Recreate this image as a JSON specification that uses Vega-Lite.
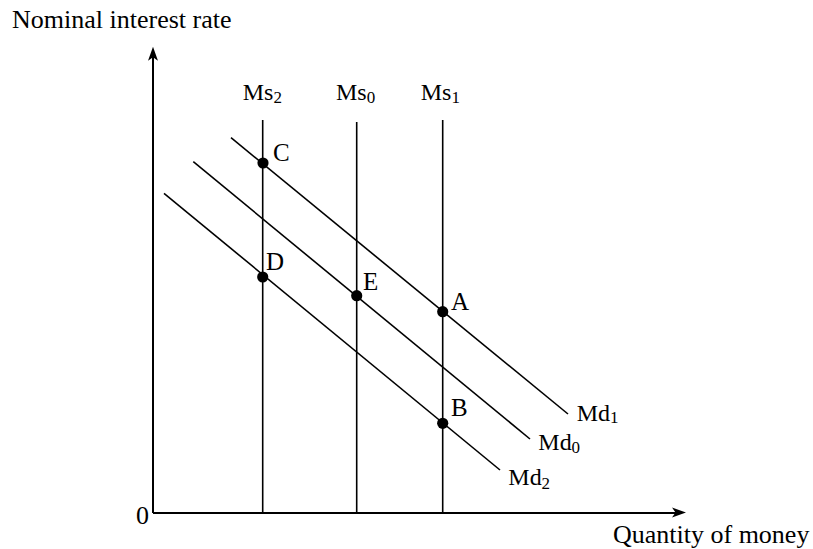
{
  "$schema": "https://vega.github.io/schema/vega-lite/v6.json",
  "width": 813,
  "height": 549,
  "autosize": {"type": "fit", "contains": "padding"},
  "padding": 0,
  "background": "white",
  "config": {"view": {"stroke": null}},
  "datasets": {
    "segs": [
      {"name": "yaxis", "role": "axis", "x1": 0, "y1": 0, "x2": 0, "y2": 458},
      {"name": "xaxis", "role": "axis", "x1": 0, "y1": 0, "x2": 526, "y2": 0},
      {"name": "Ms2", "role": "curve", "x1": 109.7, "y1": 0, "x2": 109.7, "y2": 393},
      {"name": "Ms0", "role": "curve", "x1": 203.7, "y1": 0, "x2": 203.7, "y2": 391},
      {"name": "Ms1", "role": "curve", "x1": 289.7, "y1": 0, "x2": 289.7, "y2": 393},
      {"name": "Md1", "role": "curve", "x1": 78, "y1": 375.3, "x2": 415, "y2": 99},
      {"name": "Md0", "role": "curve", "x1": 40.3, "y1": 351.3, "x2": 377, "y2": 74},
      {"name": "Md2", "role": "curve", "x1": 11, "y1": 319.7, "x2": 347, "y2": 43}
    ],
    "pts": [
      {"name": "C", "x": 110, "y": 350},
      {"name": "D", "x": 109.7, "y": 236},
      {"name": "E", "x": 203.7, "y": 217.3},
      {"name": "A", "x": 289.7, "y": 201.3},
      {"name": "B", "x": 289.7, "y": 89.7}
    ],
    "arrows": [
      {"dir": "up", "x": 0, "y": 459.3},
      {"dir": "right", "x": 526, "y": 0.5}
    ],
    "labels": [
      {"text": "Nominal interest rate", "part": "title", "x": -141, "y": 485.3},
      {"text": "Quantity of money", "part": "title", "x": 460, "y": -29.7},
      {"text": "0", "part": "title", "x": -17, "y": -11},
      {"text": "C", "part": "point", "x": 120, "y": 352},
      {"text": "D", "part": "point", "x": 113, "y": 243},
      {"text": "E", "part": "point", "x": 210, "y": 223},
      {"text": "A", "part": "point", "x": 298, "y": 203},
      {"text": "B", "part": "point", "x": 298, "y": 97},
      {"text": "Ms", "part": "main", "x": 89.7, "y": 413},
      {"text": "2", "part": "sub", "x": 120.4, "y": 409.7},
      {"text": "Ms", "part": "main", "x": 183, "y": 413},
      {"text": "0", "part": "sub", "x": 213.7, "y": 409.7},
      {"text": "Ms", "part": "main", "x": 267.7, "y": 413},
      {"text": "1", "part": "sub", "x": 298.4, "y": 409.7},
      {"text": "Md", "part": "main", "x": 423.7, "y": 92},
      {"text": "1", "part": "sub", "x": 457, "y": 90},
      {"text": "Md", "part": "main", "x": 385.3, "y": 63},
      {"text": "0", "part": "sub", "x": 418.6, "y": 59.7},
      {"text": "Md", "part": "main", "x": 355.3, "y": 28},
      {"text": "2", "part": "sub", "x": 388.6, "y": 24}
    ]
  },
  "resolve": {"scale": {"x": "shared", "y": "shared"}},
  "layer": [
    {
      "data": {"name": "segs"},
      "transform": [{"filter": "datum.role === 'axis'"}],
      "mark": {"type": "rule", "color": "black", "strokeWidth": 2},
      "encoding": {
        "x": {"field": "x1", "type": "quantitative", "scale": {"domain": [-153, 660], "nice": false, "zero": false}, "axis": null},
        "y": {"field": "y1", "type": "quantitative", "scale": {"domain": [-36, 513], "nice": false, "zero": false}, "axis": null},
        "x2": {"field": "x2"},
        "y2": {"field": "y2"}
      }
    },
    {
      "data": {"name": "segs"},
      "transform": [{"filter": "datum.role === 'curve'"}],
      "mark": {"type": "rule", "color": "black", "strokeWidth": 1.6},
      "encoding": {
        "x": {"field": "x1", "type": "quantitative"},
        "y": {"field": "y1", "type": "quantitative"},
        "x2": {"field": "x2"},
        "y2": {"field": "y2"}
      }
    },
    {
      "data": {"name": "arrows"},
      "transform": [{"filter": "datum.dir === 'up'"}],
      "mark": {"type": "point", "filled": true, "color": "black", "opacity": 1, "size": 196, "shape": "M0,-1 L0.71,1 L0,0.5 L-0.71,1 Z"},
      "encoding": {
        "x": {"field": "x", "type": "quantitative"},
        "y": {"field": "y", "type": "quantitative"}
      }
    },
    {
      "data": {"name": "arrows"},
      "transform": [{"filter": "datum.dir === 'right'"}],
      "mark": {"type": "point", "filled": true, "color": "black", "opacity": 1, "size": 196, "shape": "M1,0 L-1,-0.71 L-0.5,0 L-1,0.71 Z"},
      "encoding": {
        "x": {"field": "x", "type": "quantitative"},
        "y": {"field": "y", "type": "quantitative"}
      }
    },
    {
      "data": {"name": "pts"},
      "mark": {"type": "circle", "color": "black", "opacity": 1, "size": 125},
      "encoding": {
        "x": {"field": "x", "type": "quantitative"},
        "y": {"field": "y", "type": "quantitative"}
      }
    },
    {
      "data": {"name": "labels"},
      "transform": [{"filter": "datum.part === 'title'"}],
      "mark": {"type": "text", "font": "Liberation Serif", "fontSize": 26, "color": "black", "align": "left", "baseline": "alphabetic"},
      "encoding": {
        "x": {"field": "x", "type": "quantitative"},
        "y": {"field": "y", "type": "quantitative"},
        "text": {"field": "text"}
      }
    },
    {
      "data": {"name": "labels"},
      "transform": [{"filter": "datum.part === 'point'"}],
      "mark": {"type": "text", "font": "Liberation Serif", "fontSize": 25, "color": "black", "align": "left", "baseline": "alphabetic"},
      "encoding": {
        "x": {"field": "x", "type": "quantitative"},
        "y": {"field": "y", "type": "quantitative"},
        "text": {"field": "text"}
      }
    },
    {
      "data": {"name": "labels"},
      "transform": [{"filter": "datum.part === 'main'"}],
      "mark": {"type": "text", "font": "Liberation Serif", "fontSize": 24, "color": "black", "align": "left", "baseline": "alphabetic"},
      "encoding": {
        "x": {"field": "x", "type": "quantitative"},
        "y": {"field": "y", "type": "quantitative"},
        "text": {"field": "text"}
      }
    },
    {
      "data": {"name": "labels"},
      "transform": [{"filter": "datum.part === 'sub'"}],
      "mark": {"type": "text", "font": "Liberation Serif", "fontSize": 17, "color": "black", "align": "left", "baseline": "alphabetic"},
      "encoding": {
        "x": {"field": "x", "type": "quantitative"},
        "y": {"field": "y", "type": "quantitative"},
        "text": {"field": "text"}
      }
    }
  ]
}
